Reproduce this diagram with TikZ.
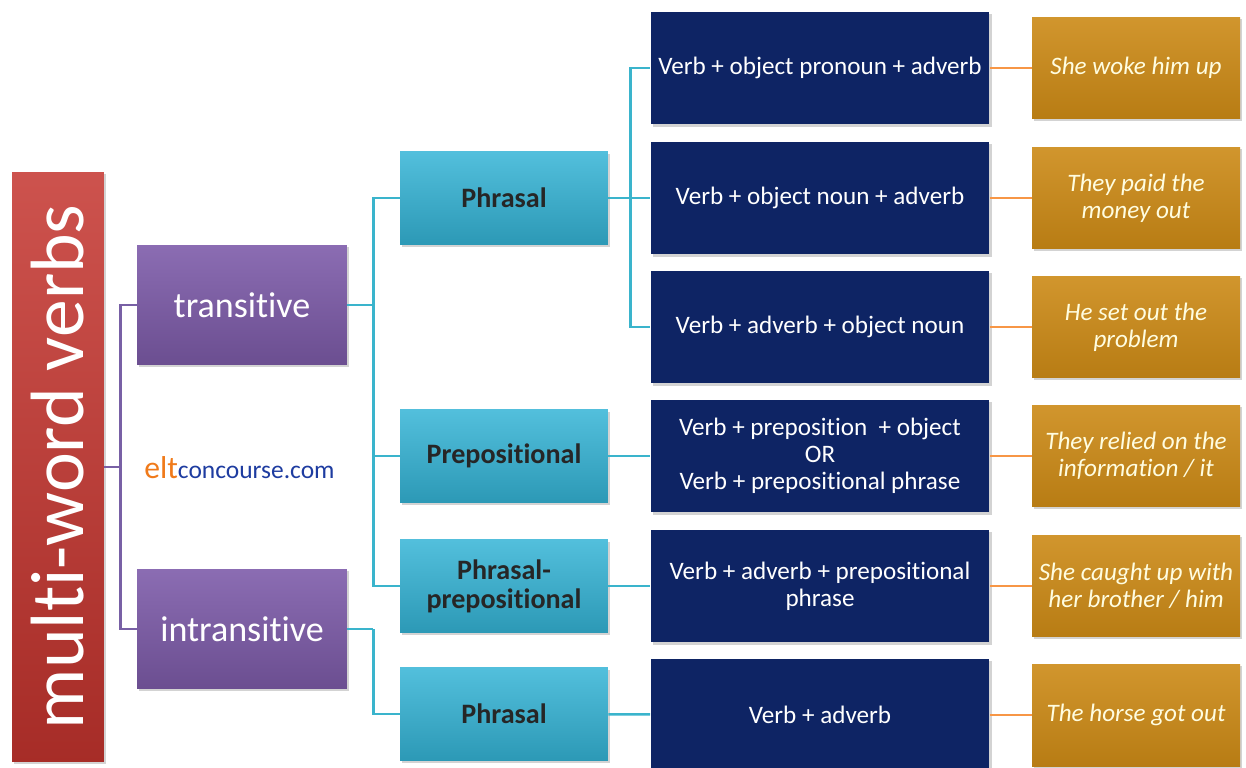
\documentclass[tikz,border=0pt]{standalone}
\usepackage{fontspec}
\setmainfont{Carlito}[Ligatures=NoCommon]
\usetikzlibrary{shadows}

\definecolor{titlered}{RGB}{196,52,46}
\definecolor{typepurple}{RGB}{126,92,170}
\definecolor{classcyan}{RGB}{52,180,214}
\definecolor{patternnavy}{RGB}{14,36,100}
\definecolor{examplegold}{RGB}{204,138,22}
\definecolor{purpleline}{RGB}{120,96,165}
\definecolor{cyanline}{RGB}{58,180,204}
\definecolor{orangeline}{RGB}{247,150,70}
\definecolor{eltorange}{RGB}{240,122,26}
\definecolor{eltblue}{RGB}{30,60,160}

\tikzset{
  box/.style={rectangle, inner sep=2pt, align=center,
    drop shadow={shadow xshift=1.2pt, shadow yshift=-1.2pt, opacity=0.35}},
  titlebox/.style={box, top color=titlered!85!white, bottom color=titlered!85!black,
    minimum width=1.84cm, minimum height=11.8cm, text=white},
  typebox/.style={box, top color=typepurple!90!white, bottom color=typepurple!85!black,
    minimum width=4.2cm, minimum height=2.4cm, text=white, font=\fontsize{20.5}{22}\selectfont},
  classbox/.style={box, top color=classcyan!85!white, bottom color=classcyan!85!black,
    minimum width=4.16cm, minimum height=1.86cm, text=black!85, font=\fontsize{16}{16.5}\selectfont\bfseries},
  patternbox/.style={box, fill=patternnavy, minimum width=6.78cm, minimum height=2.26cm,
    text=white, font=\fontsize{14.3}{15.5}\selectfont},
  examplebox/.style={box, top color=examplegold!90!white, bottom color=examplegold!90!black,
    minimum width=4.16cm, minimum height=2.04cm, text=white!88!yellow,
    font=\fontsize{14.3}{15.5}\selectfont\itshape},
  purpleconn/.style={draw=purpleline, line width=1.4pt},
  cyanconn/.style={draw=cyanline, line width=1.4pt},
  orangeconn/.style={draw=orangeline, line width=1.4pt}
}

\begin{document}
\begin{tikzpicture}[x=0.02cm, y=-0.02cm]
  \useasboundingbox (0,0) rectangle (1246,767);

  % Title
  \node[titlebox] (title) at (58,467) {};
  \node[rotate=90, text=white, font=\fontsize{43}{45}\selectfont] (titletext) at (title.center) {multi-word verbs};

  % Transitive / intransitive
  \node[typebox] (trans) at (242,305) {transitive};
  \node[typebox] (intrans) at (242,629) {intransitive};

  % Logo
  \node[anchor=west, inner sep=0pt] (logo) at (144,468)
    {{\color{eltorange}\fontsize{18}{20}\selectfont elt}{\color{eltblue}\fontsize{14.5}{16}\selectfont concourse.com}};

  % Classes
  \node[classbox] (phrasal) at (504,198) {Phrasal};
  \node[classbox] (prep) at (504,456) {Prepositional};
  \node[classbox] (phprep) at (504,586) {Phrasal-\\prepositional};
  \node[classbox] (phrasalb) at (504,714) {Phrasal};

  % Patterns
  \node[patternbox] (pat1) at (820,68) {Verb + object pronoun + adverb};
  \node[patternbox] (pat2) at (820,198) {Verb + object noun + adverb};
  \node[patternbox] (pat3) at (820,327) {Verb + adverb + object noun};
  \node[patternbox] (pat4) at (820,456) {Verb + preposition \ + object\\OR\\Verb + prepositional phrase};
  \node[patternbox] (pat5) at (820,586) {Verb + adverb + prepositional\\phrase};
  \node[patternbox] (pat6) at (820,715) {Verb + adverb};

  % Examples
  \node[examplebox] (ex1) at (1136,68) {She woke him up};
  \node[examplebox] (ex2) at (1136,198) {They paid the\\money out};
  \node[examplebox] (ex3) at (1136,327) {He set out the\\problem};
  \node[examplebox] (ex4) at (1136,456) {They relied on the\\information / it};
  \node[examplebox] (ex5) at (1136,586) {She caught up with\\her brother / him};
  \node[examplebox] (ex6) at (1136,715) {The horse got out};

  % Draw title lines
  \draw[purpleconn] (title.east) -- ++(16,0) coordinate (tj);
  \draw[purpleconn] (tj) |- (trans.west);
  \draw[purpleconn] (tj) |- (intrans.west);

  % Draw type lines
  \draw[cyanconn] (trans.east) -- ++(26,0) coordinate (trj);
  \draw[cyanconn] (trj) |- (phrasal.west);
  \draw[cyanconn] (trj) |- (prep.west);
  \draw[cyanconn] (trj) |- (phprep.west);
  \draw[cyanconn] (intrans.east) -- ++(26,0) coordinate (inj);
  \draw[cyanconn] (inj) |- (phrasalb.west);

  % Draw class lines
  \draw[cyanconn] (phrasal.east) -- ++(22,0) coordinate (phj);
  \draw[cyanconn] (phj) |- (pat1.west);
  \draw[cyanconn] (phj) |- (pat2.west);
  \draw[cyanconn] (phj) |- (pat3.west);
  \draw[cyanconn] (prep) -- (pat4);
  \draw[cyanconn] (phprep) -- (pat5);
  \draw[cyanconn] (phrasalb) -- (pat6);

  % Draw example lines
  \foreach \i in {1,...,6}
    \draw[orangeconn] (pat\i) -- (ex\i);
\end{tikzpicture}
\end{document}
